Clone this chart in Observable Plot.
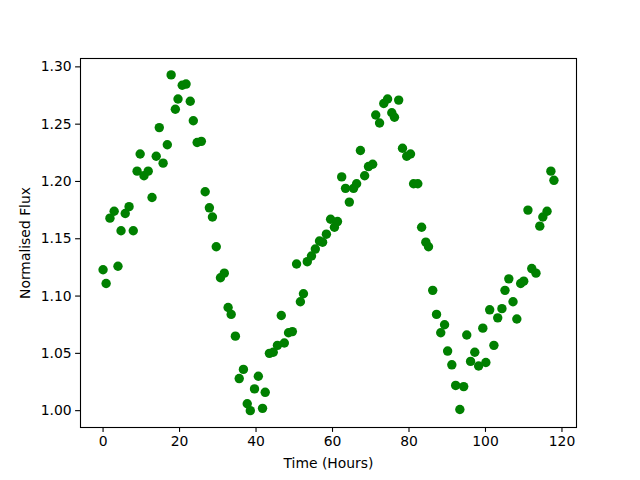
<!DOCTYPE html>
<html>
<head>
<meta charset="utf-8">
<script src="https://cdn.jsdelivr.net/npm/d3@7"></script>
<script src="https://cdn.jsdelivr.net/npm/@observablehq/plot@0.6"></script>
<style>
  html, body { margin: 0; padding: 0; background: #fff; }
  #chart svg { display: block; }
</style>
</head>
<body>
<div id="chart"></div>
<script>
const hours = [
  0.0, 0.8, 1.8, 2.9, 3.9, 4.7, 5.8, 6.8, 7.9, 8.9,
  9.7, 10.7, 11.8, 12.8, 13.9, 14.7, 15.7, 16.8, 17.8, 18.9,
  19.6, 20.7, 21.7, 22.8, 23.6, 24.6, 25.7, 26.7, 27.8, 28.6,
  29.6, 30.7, 31.7, 32.7, 33.5, 34.6, 35.6, 36.7, 37.7, 38.5,
  39.6, 40.6, 41.7, 42.4, 43.5, 44.5, 45.6, 46.6, 47.4, 48.5,
  49.5, 50.6, 51.6, 52.4, 53.4, 54.5, 55.5, 56.6, 57.4, 58.4,
  59.5, 60.5, 61.3, 62.4, 63.4, 64.4, 65.5, 66.3, 67.3, 68.4,
  69.4, 70.5, 71.3, 72.3, 73.4, 74.4, 75.5, 76.2, 77.3, 78.3,
  79.4, 80.4, 81.2, 82.3, 83.3, 84.4, 85.1, 86.2, 87.2, 88.3,
  89.3, 90.1, 91.2, 92.2, 93.3, 94.3, 95.1, 96.1, 97.2, 98.2,
  99.3, 100.1, 101.1, 102.2, 103.2, 104.3, 105.1, 106.1, 107.2, 108.2,
  109.2, 110.0, 111.1, 112.1, 113.2, 114.2, 115.0, 116.1, 117.1, 117.9
];
const flux = [
  1.123, 1.111, 1.168, 1.174, 1.126, 1.157, 1.172, 1.178, 1.157, 1.209,
  1.224, 1.205, 1.209, 1.186, 1.222, 1.247, 1.216, 1.232, 1.293, 1.263,
  1.272, 1.284, 1.285, 1.270, 1.253, 1.234, 1.235, 1.191, 1.177, 1.169,
  1.143, 1.116, 1.120, 1.090, 1.084, 1.065, 1.028, 1.036, 1.006, 1.000,
  1.019, 1.030, 1.002, 1.016, 1.050, 1.051, 1.057, 1.083, 1.059, 1.068,
  1.069, 1.128, 1.095, 1.102, 1.130, 1.135, 1.141, 1.148, 1.147, 1.154,
  1.167, 1.160, 1.165, 1.204, 1.194, 1.182, 1.194, 1.198, 1.227, 1.205,
  1.213, 1.215, 1.258, 1.251, 1.268, 1.272, 1.260, 1.256, 1.271, 1.229,
  1.222, 1.224, 1.198, 1.198, 1.160, 1.147, 1.143, 1.105, 1.084, 1.068,
  1.075, 1.052, 1.040, 1.022, 1.001, 1.021, 1.066, 1.043, 1.051, 1.039,
  1.072, 1.042, 1.088, 1.057, 1.081, 1.089, 1.105, 1.115, 1.095, 1.080,
  1.111, 1.113, 1.175, 1.124, 1.120, 1.161, 1.169, 1.174, 1.209, 1.201
];
const xTicks = [0, 20, 40, 60, 80, 100, 120];
const yTicks = [1.00, 1.05, 1.10, 1.15, 1.20, 1.25, 1.30];
const xLabel = "Time (Hours)";
const yLabel = "Normalised Flux";

const data = hours.map((h, i) => ({h, f: flux[i]}));

const chart = Plot.plot({
  width: 640,
  height: 480,
  marginLeft: 80,
  marginRight: 64,
  marginTop: 58,
  marginBottom: 53,
  style: {fontFamily: "DejaVu Sans", fontSize: "13.9px", color: "#000", background: "#fff"},
  x: {domain: [-5.9, 123.8]},
  y: {domain: [0.9853, 1.3073]},
  marks: [
    Plot.frame({stroke: "#000", strokeWidth: 1.1}),
    Plot.axisX({ticks: xTicks, tickSize: 4.9, tickPadding: 4, strokeWidth: 1.1,
      label: xLabel, labelAnchor: "center", labelArrow: "none", labelOffset: 40}),
    Plot.axisY({ticks: yTicks, tickFormat: d3.format(".2f"), tickSize: 4.9, tickPadding: 4, strokeWidth: 1.1,
      label: yLabel, labelAnchor: "center", labelArrow: "none", labelOffset: 60}),
    Plot.dot(data, {x: "h", y: "f", r: 4.7, fill: "#008000", stroke: "none"})
  ]
});
document.getElementById("chart").appendChild(chart);
</script>
</body>
</html>
